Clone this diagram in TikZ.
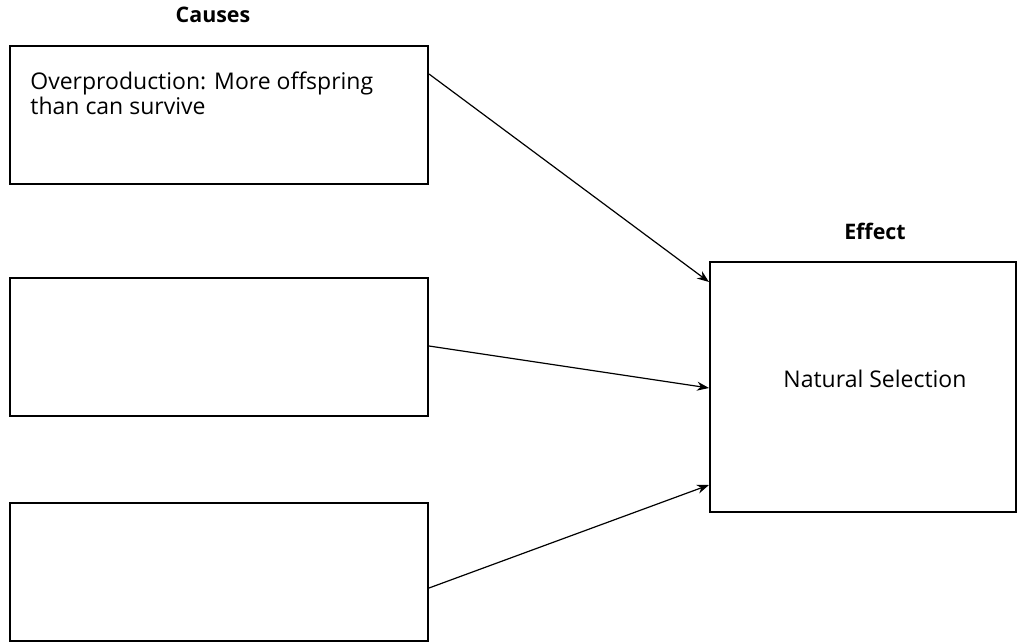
\documentclass[tikz,border=0pt]{standalone}
\usepackage{fontspec}
\setmainfont{Open Sans}
\usetikzlibrary{arrows.meta}
\tikzset{
  causebox/.style={draw,line width=1pt,minimum width=209pt,minimum height=69pt,inner sep=0pt},
  effectbox/.style={draw,line width=1pt,minimum width=153pt,minimum height=125pt,inner sep=0pt},
  headtext/.style={font=\fontsize{10.7}{12}\selectfont\bfseries,inner sep=0pt},
  boxtext/.style={font=\fontsize{11.5}{11}\selectfont,align=left,inner sep=0pt},
  causearrow/.style={line width=0.6pt,-{Stealth[length=6pt,width=4.5pt]}}
}
\begin{document}
\begin{tikzpicture}[x=0.5pt,y=-0.5pt]
    \useasboundingbox (0,0) rectangle (1019,642);
    \node[headtext,anchor=base] (causes) at (213,23) {Causes};
    \node[causebox] (c1) at (219,115) {};
    \node[boxtext,anchor=north west] (c1text) at (30,72) {Overproduction: More offspring\\than can survive};
    \node[causebox] (c2) at (219,347) {};
    \node[causebox] (c3) at (219,572) {};

    \node[headtext,anchor=base] (effect) at (875,240) {Effect};
    \node[effectbox] (e) at (863,387) {};
    \node[boxtext,anchor=base] (etext) at (875,387) {Natural Selection};

    \draw[causearrow] ([yshift=-14.5pt]c1.north east)--([yshift=-10.5pt]e.north west);
    \draw[causearrow] ([yshift=0.5pt]c2.east)--([yshift=-0.5pt]e.west);
    \draw[causearrow] ([yshift=-8pt]c3.east)--([yshift=-49pt]e.west);
  \end{tikzpicture}
\end{document}
